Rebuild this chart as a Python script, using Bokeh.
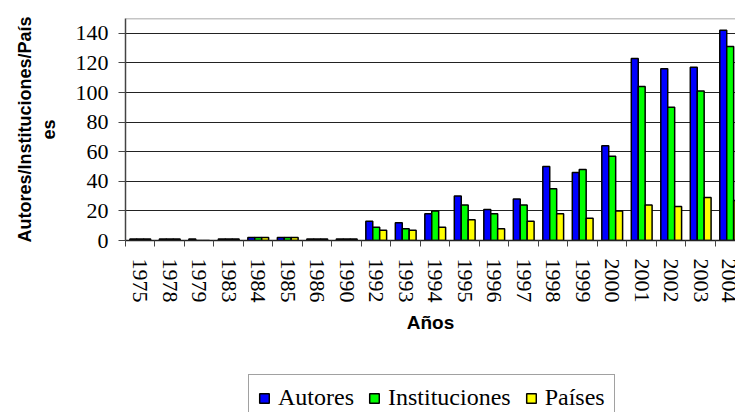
import math
from bokeh.plotting import figure
from bokeh.layouts import column
from bokeh.models import (ColumnDataSource, Range1d, FixedTicker, Legend, LegendItem, Span)
from bokeh.embed import file_html
from bokeh.resources import INLINE

years = ["1975", "1978", "1979", "1983", "1984", "1985", "1986", "1990", "1992", "1993",
         "1994", "1995", "1996", "1997", "1998", "1999", "2000", "2001", "2002", "2003", "2004"]
autores = [1, 1, 1, 1, 2, 2, 1, 1, 13, 12, 18, 30, 21, 28, 50, 46, 64, 123, 116, 117, 142]
instituciones = [1, 1, 0, 1, 2, 2, 1, 1, 9, 8, 20, 24, 18, 24, 35, 48, 57, 104, 90, 101, 131]
paises = [1, 1, 0, 1, 2, 2, 1, 1, 7, 7, 9, 14, 8, 13, 18, 15, 20, 24, 23, 29, 27]
series_names = ["Autores", "Instituciones", "Países"]
series_colors = ["#0000FF", "#00FF00", "#FFFF00"]
y_ticks = [0, 20, 40, 60, 80, 100, 120, 140]

idx = list(range(len(years)))
bw = 0.235
src = ColumnDataSource(dict(
    x_a=[i - bw for i in idx], x_i=idx, x_p=[i + bw for i in idx],
    a=autores, ins=instituciones, pa=paises))

p = figure(width=735, height=365, output_backend="svg", toolbar_location=None,
           x_range=Range1d(-0.5, 20.18), y_range=Range1d(0, 150),
           min_border_left=125, min_border_right=0, min_border_top=18, min_border_bottom=125)
p.outline_line_color = None
p.background_fill_color = "white"
p.border_fill_color = "white"

p.vbar(x="x_a", top="a", width=bw, source=src, fill_color=series_colors[0], line_color="black", line_width=1.5)
p.vbar(x="x_i", top="ins", width=bw, source=src, fill_color=series_colors[1], line_color="black", line_width=1.5)
p.vbar(x="x_p", top="pa", width=bw, source=src, fill_color=series_colors[2], line_color="black", line_width=1.5)

p.add_layout(Span(location=150, dimension="width", line_color="#8c8c8c", line_width=1.5))

# axes
p.xgrid.grid_line_color = None
p.ygrid.ticker = FixedTicker(ticks=y_ticks[1:])
p.ygrid.grid_line_color = "#222222"
p.ygrid.grid_line_width = 1.2

p.yaxis.ticker = FixedTicker(ticks=y_ticks)
p.yaxis.axis_line_color = "#444444"
p.yaxis.axis_line_width = 1.5
p.yaxis.major_tick_out = 7
p.yaxis.major_tick_in = 0
p.yaxis.major_tick_line_color = "#444444"
p.yaxis.minor_tick_line_color = None
p.yaxis.major_label_text_font = "Liberation Serif"
p.yaxis.major_label_text_font_size = "22px"
p.yaxis.major_label_text_color = "black"
p.yaxis.major_label_standoff = 10
p.yaxis.axis_label = "Autores/Instituciones/País\nes"
p.yaxis.axis_label_text_font = "Liberation Sans"
p.yaxis.axis_label_text_font_style = "bold"
p.yaxis.axis_label_text_font_size = "18px"
p.yaxis.axis_label_text_color = "black"
p.yaxis.axis_label_standoff = 14

p.xaxis.ticker = FixedTicker(ticks=idx, minor_ticks=[i - 0.5 for i in range(len(years) + 1)])
p.xaxis.major_label_overrides = {i: y for i, y in enumerate(years)}
p.xaxis.major_label_orientation = -math.pi / 2
p.xaxis.major_tick_out = 0
p.xaxis.major_tick_in = 0
p.xaxis.minor_tick_out = 6
p.xaxis.minor_tick_in = 0
p.xaxis.minor_tick_line_color = "#444444"
p.xaxis.axis_line_color = "#222222"
p.xaxis.axis_line_width = 1.5
p.xaxis.major_label_text_font = "Liberation Serif"
p.xaxis.major_label_text_font_size = "22px"
p.xaxis.major_label_text_color = "black"
p.xaxis.major_label_standoff = 12
p.xaxis.axis_label = "Años"
p.xaxis.axis_label_text_font = "Liberation Sans"
p.xaxis.axis_label_text_font_style = "bold"
p.xaxis.axis_label_text_font_size = "19px"
p.xaxis.axis_label_text_color = "black"
p.xaxis.axis_label_standoff = 6

# legend strip below the chart (frames aligned with the main chart)
lg = figure(width=735, height=47, output_backend="svg", toolbar_location=None,
            x_axis_type=None, y_axis_type=None,
            x_range=Range1d(0, 1), y_range=Range1d(0, 1),
            min_border_left=125, min_border_right=0, min_border_top=0, min_border_bottom=0)
lg.outline_line_color = None
lg.border_fill_color = "white"
lg.background_fill_color = "white"
lg.xgrid.visible = False
lg.ygrid.visible = False
lr = [lg.vbar(x=[0.5], top=[-3], bottom=[-4], width=0.1, fill_color=c, line_color="black", line_width=1.5)
      for c in series_colors]
legend = Legend(items=[LegendItem(label=n, renderers=[r]) for n, r in zip(series_names, lr)],
                orientation="horizontal", location=(123, -9))
legend.label_text_font = "Liberation Serif"
legend.label_text_font_size = "24px"
legend.label_text_color = "black"
legend.glyph_width = 12
legend.glyph_height = 12
legend.label_standoff = 8
legend.spacing = 14
legend.padding = 9
legend.margin = 0
legend.border_line_color = "#444444"
legend.border_line_width = 1.5
legend.background_fill_alpha = 1
lg.add_layout(legend, "center")

layout = column(p, lg, spacing=0)
open("out.html", "w").write(file_html(layout, INLINE))
